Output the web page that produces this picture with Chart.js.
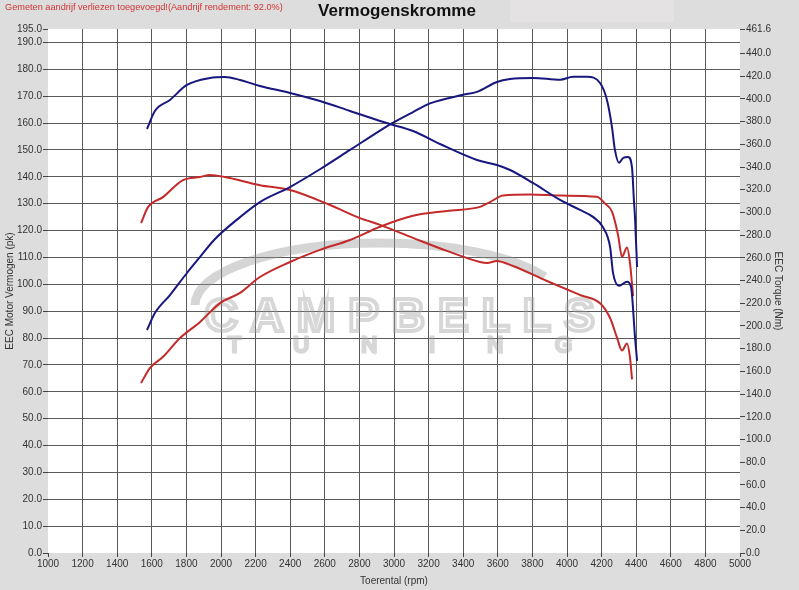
<!DOCTYPE html>
<html>
<head>
<meta charset="utf-8">
<title>Vermogenskromme</title>
<script src="https://cdn.jsdelivr.net/npm/chart.js@4.4.1/dist/chart.umd.min.js"></script>
<style>
    html, body { margin: 0; padding: 0; background: #dddddd; }
    #wrap { width: 799px; height: 590px; }
</style>
</head>
<body>
<div id="wrap"><canvas id="dynoChart" width="799" height="590"></canvas></div>
<script>
// Vermogen na tuning (blauw, pk)
const rpmPowerTuned = [1572, 1618, 1705, 1803, 1879, 1960, 2110, 2225, 2399, 2572, 2746, 2919, 2977, 3110, 3208, 3399, 3480, 3595, 3671, 3803, 3960, 4035, 4116, 4191, 4231, 4260, 4277, 4301, 4324, 4353, 4376, 4387, 4393, 4405];
const powerTuned    = [83.0, 89.3, 96.0, 104.2, 110.2, 116.5, 125.0, 130.6, 136.2, 142.8, 150.0, 157.2, 159.5, 164.1, 167.3, 170.5, 171.6, 175.3, 176.4, 176.8, 176.1, 177.2, 177.2, 174.9, 168.6, 158.5, 150.0, 145.2, 147.0, 147.4, 143.3, 131.0, 125.0, 106.4];

// Koppel na tuning (blauw, Nm)
const rpmTorqueTuned = [1572, 1618, 1705, 1803, 1936, 2023, 2110, 2225, 2399, 2572, 2746, 2919, 2977, 3110, 3266, 3480, 3595, 3671, 3803, 3960, 4075, 4150, 4208, 4249, 4266, 4301, 4347, 4370, 4393, 4405];
const torqueTuned    = [373.5, 389.4, 399.1, 412.3, 418.4, 419.3, 416.7, 411.4, 405.3, 398.2, 389.4, 380.6, 377.9, 371.7, 360.3, 346.2, 341.8, 337.4, 326.0, 311.0, 302.2, 296.1, 287.0, 269.7, 246.8, 235.4, 238.9, 234.5, 190.4, 169.3];

// Vermogen standaard (rood, pk)
const rpmPowerStock = [1538, 1590, 1665, 1763, 1879, 1994, 2110, 2225, 2399, 2572, 2746, 2919, 3110, 3306, 3497, 3555, 3630, 3786, 3977, 4173, 4220, 4260, 4295, 4318, 4347, 4364, 4382];
const powerStock    = [63.3, 68.9, 73.0, 80.0, 86.0, 93.0, 96.8, 102.7, 108.3, 112.8, 116.5, 121.4, 125.5, 127.3, 128.8, 130.6, 133.0, 133.4, 133.0, 132.6, 130.0, 127.0, 118.4, 110.2, 113.7, 108.0, 95.6];

// Koppel standaard (rood, Nm)
const rpmTorqueStock = [1538, 1578, 1665, 1780, 1879, 1936, 2023, 2225, 2399, 2630, 2803, 2919, 3110, 3306, 3497, 3538, 3595, 3688, 3884, 4075, 4191, 4249, 4289, 4318, 4347, 4364, 4376];
const torqueStock    = [290.7, 304.7, 313.5, 328.5, 331.2, 333.0, 331.2, 324.0, 319.8, 306.6, 295.0, 289.1, 277.6, 266.1, 256.4, 255.5, 257.3, 252.8, 239.6, 227.3, 220.0, 207.0, 189.8, 178.4, 184.6, 172.3, 153.0];

// Ticks
const pkTicks = [0, 10, 20, 30, 40, 50, 60, 70, 80, 90, 100, 110, 120, 130, 140, 150, 160, 170, 180, 190, 195];
const nmTicks = [0, 20, 40, 60, 80, 100, 120, 140, 160, 180, 200, 220, 240, 260, 280, 300, 320, 340, 360, 380, 400, 420, 440, 461.6];

const BLUE = '#17177f';
const RED = '#c42a2a';

function toPoints(xs, ys) {
    return xs.map((x, i) => ({ x: x, y: ys[i] }));
}

Chart.defaults.font.family = '"Liberation Sans", Arial, sans-serif';
Chart.defaults.font.size = 10;
Chart.defaults.color = '#333333';

// achtergrond, titel en watermerk
const dynoDecor = {
    id: 'dynoDecor',
    beforeDraw(chart) {
        const ctx = chart.ctx;
        const a = chart.chartArea;
        ctx.save();
        ctx.fillStyle = '#dddddd';
        ctx.fillRect(0, 0, chart.width, chart.height);
        ctx.fillStyle = '#e5e2e4';
        ctx.fillRect(510, 0, 164, 22);
        ctx.fillStyle = '#ffffff';
        ctx.fillRect(a.left, a.top, a.right - a.left, a.bottom - a.top);
        ctx.fillStyle = '#d03434';
        ctx.font = '9.2px "Liberation Sans", Arial, sans-serif';
        ctx.textBaseline = 'middle';
        ctx.textAlign = 'left';
        ctx.fillText('Gemeten aandrijf verliezen toegevoegd!(Aandrijf rendement: 92.0%)', 5, 7);
        ctx.fillStyle = '#111111';
        ctx.font = 'bold 17px "Liberation Sans", Arial, sans-serif';
        ctx.textAlign = 'center';
        ctx.fillText('Vermogenskromme', 397, 11);
        ctx.restore();
    },
    beforeDatasetsDraw(chart) {
        const ctx = chart.ctx;
        const a = chart.chartArea;
        const cx = (a.left + a.right) / 2 + 6;
        ctx.save();
        ctx.strokeStyle = 'rgba(150,150,150,0.4)';
        ctx.lineWidth = 9;
        ctx.beginPath();
        ctx.ellipse(cx - 20, 305, 185, 62, 0, Math.PI * 1.0, Math.PI * 1.85);
        ctx.stroke();
        ctx.lineWidth = 4;
        ctx.font = 'bold 46px "Liberation Sans", Arial, sans-serif';
        ctx.textAlign = 'center';
        ctx.textBaseline = 'middle';
        ctx.letterSpacing = '13px';
        ctx.strokeStyle = 'rgba(160,160,160,0.42)';
        ctx.strokeText('CAMPBELLS', cx + 6, 318);
        ctx.lineWidth = 3;
        ctx.font = '22px "Liberation Sans", Arial, sans-serif';
        ctx.letterSpacing = '52px';
        ctx.strokeText('TUNING', cx + 26, 346);
        ctx.restore();
    }
};

const dynoCtx = document.getElementById('dynoChart').getContext('2d');

const dynoChart = new Chart(dynoCtx, {
    type: 'line',
    data: {
        datasets: [
            { data: toPoints(rpmPowerTuned, powerTuned), yAxisID: 'yPk', borderColor: BLUE },
            { data: toPoints(rpmTorqueTuned, torqueTuned), yAxisID: 'yNm', borderColor: BLUE },
            { data: toPoints(rpmPowerStock, powerStock), yAxisID: 'yPk', borderColor: RED },
            { data: toPoints(rpmTorqueStock, torqueStock), yAxisID: 'yNm', borderColor: RED }
        ]
    },
    options: {
        responsive: false,
        animation: false,
        layout: { padding: { top: 29, left: 0, right: 0, bottom: 0 } },
        elements: {
            line: { borderWidth: 2, fill: false, cubicInterpolationMode: 'monotone' },
            point: { radius: 0 }
        },
        plugins: {
            legend: { display: false },
            tooltip: { enabled: false }
        },
        scales: {
            x: {
                type: 'linear',
                min: 1000,
                max: 5000,
                border: { display: false },
                grid: {
                    color: c => (c.tick.value === 1000 || c.tick.value === 5000) ? 'rgba(0,0,0,0)' : '#5a5a5a',
                    tickColor: '#444444',
                    tickLength: 4
                },
                ticks: { stepSize: 200, maxRotation: 0, autoSkip: false, padding: 1, callback: v => String(v) },
                title: { display: true, text: 'Toerental (rpm)', padding: { top: 0, bottom: 3 } },
                afterFit: s => { s.height = 37; }
            },
            yPk: {
                position: 'left',
                min: 0,
                max: 195,
                border: { display: false },
                afterBuildTicks: s => { s.ticks = pkTicks.map(v => ({ value: v })); },
                grid: {
                    color: c => (c.tick.value === 0 || c.tick.value === 195) ? 'rgba(0,0,0,0)' : '#5a5a5a',
                    tickColor: '#444444',
                    tickLength: 5
                },
                ticks: { padding: 1, autoSkip: false, callback: v => v.toFixed(1) },
                title: { display: true, text: 'EEC Motor Vermogen (pk)', padding: { top: 4, bottom: 0 } },
                afterFit: s => { s.width = 48; }
            },
            yNm: {
                position: 'right',
                min: 0,
                max: 461.6,
                border: { display: false },
                afterBuildTicks: s => { s.ticks = nmTicks.map(v => ({ value: v })); },
                grid: { drawOnChartArea: false, tickColor: '#444444', tickLength: 5 },
                ticks: { padding: 1, autoSkip: false, callback: v => v.toFixed(1) },
                title: { display: true, text: 'EEC Torque (Nm)', padding: { top: 15, bottom: 0 } },
                afterFit: s => { s.width = 59; }
            }
        }
    },
    plugins: [dynoDecor]
});
</script>
</body>
</html>
